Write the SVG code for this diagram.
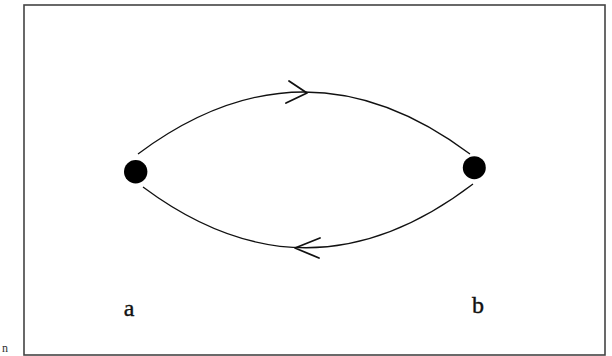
<svg xmlns="http://www.w3.org/2000/svg" width="612" height="356" viewBox="0 0 612 356">
<style>
.frame{fill:none;stroke:#444;stroke-width:1.6}
.edge{fill:none;stroke:#111;stroke-width:1.3}
.head{fill:none;stroke:#111;stroke-width:1.8;stroke-linecap:round;stroke-linejoin:round}
.node{fill:#000}
.lbl{font-family:"Liberation Serif","Times New Roman",serif;font-size:24px;fill:#111;stroke:#111;stroke-width:0.4}
.frag{font-family:"Liberation Serif","Times New Roman",serif;font-size:12px;fill:#333}
</style>
<rect width="612" height="356" fill="#fff"/>
<rect class="frame" x="24" y="5" width="581" height="350"/>
<text class="frag" x="2" y="352">n</text>
<g id="connectors">
<path class="edge" d="M138,154 Q304,30 470,154"/>
<path class="head" d="M289,81 L307,93 L286,103"/>
<path class="edge" d="M143,187 Q308,310 473,184"/>
<path class="head" d="M320,238 L295,248 L319,258"/>
</g>
<g id="node-a">
<circle class="node" cx="135.7" cy="171.7" r="11.7"/>
<text class="lbl" x="129" y="316" text-anchor="middle">a</text>
</g>
<g id="node-b">
<circle class="node" cx="474.3" cy="167.7" r="11.5"/>
<text class="lbl" x="478" y="313" text-anchor="middle">b</text>
</g>
</svg>
